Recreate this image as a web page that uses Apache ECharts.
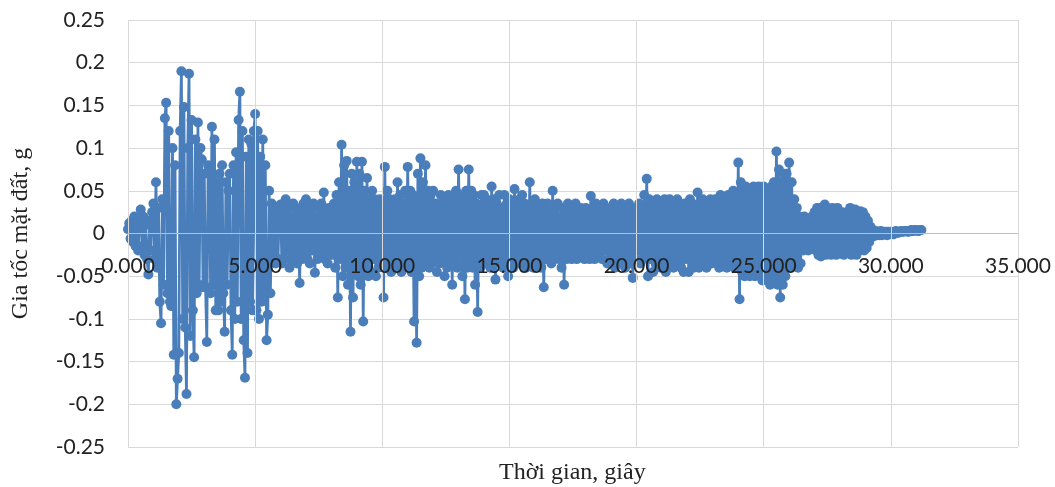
<!DOCTYPE html>
<html>
<head>
<meta charset="utf-8">
<script src="https://cdn.jsdelivr.net/npm/echarts@6/dist/echarts.min.js"></script>
<style>
  html, body { margin: 0; padding: 0; background: #ffffff; }
  #chart { width: 1055px; height: 487px; }
</style>
</head>
<body>
<div id="chart"></div>
<script>
// Ground acceleration record (g), sampled every DT seconds, two lines per second
const DT = 0.05;
const accel = [
  0.005, 0.012, -0.006, 0.015, -0.01, 0.02, -0.015, 0.012, -0.02, 0.018,
  0.028, -0.015, 0.02, -0.025, 0.01, -0.03, -0.048, 0.015, -0.02, 0.025,
  0.035, -0.03, 0.06, -0.04, 0.03, -0.08, -0.105, 0.04, -0.06, 0.135,
  0.153, -0.07, 0.12, -0.08, -0.085, 0.1, -0.142, 0.08, -0.2, -0.17,
  -0.14, 0.12, 0.19, -0.1, 0.148, -0.11, -0.188, 0.1, 0.187, -0.12,
  0.133, -0.09, -0.145, 0.11, -0.07, 0.13, -0.06, 0.1, 0.087, -0.063,
  0.07, -0.063, -0.127, 0.08, 0.075, -0.07, 0.125, -0.06, 0.11, -0.09,
  0.06, -0.09, 0.07, -0.08, 0.08, -0.07, -0.115, 0.06, -0.06, 0.05,
  0.07, -0.09, -0.142, 0.08, -0.1, 0.095, -0.08, 0.133, 0.166, -0.1,
  0.12, -0.125, -0.169, 0.09, -0.14, 0.11, -0.08, 0.105, -0.09, 0.12,
  0.14, -0.09, 0.12, -0.1, 0.09, -0.08, 0.11, -0.07, 0.08, -0.125,
  -0.095, 0.05, -0.07, 0.035, -0.03, 0.03, -0.035, 0.025, -0.03, 0.03,
  0.034, -0.035, 0.025, -0.03, 0.04, -0.02, 0.03, -0.04, 0.02, -0.03,
  0.035, -0.025, 0.03, -0.035, 0.02, -0.058, 0.025, -0.03, 0.035, -0.02,
  0.04, -0.03, 0.025, -0.035, 0.03, -0.02, 0.035, -0.046, 0.02, -0.03,
  0.03, -0.025, 0.035, -0.02, 0.048, -0.03, 0.025, -0.035, 0.03, -0.025,
  0.03, -0.025, 0.035, -0.04, 0.045, -0.075, 0.06, -0.03, 0.104, -0.05,
  0.08, -0.04, 0.085, -0.06, 0.05, -0.115, 0.07, -0.075, 0.06, -0.04,
  0.084, -0.05, 0.07, -0.06, 0.084, -0.103, 0.05, -0.04, 0.065, -0.05,
  0.04, -0.045, 0.05, -0.03, 0.04, -0.05, 0.035, -0.04, 0.04, -0.03,
  0.03, -0.075, 0.078, -0.04, 0.05, -0.035, 0.04, -0.045, 0.035, -0.03,
  0.04, -0.04, 0.06, -0.035, 0.045, -0.045, 0.035, -0.04, 0.05, -0.03,
  0.078, -0.04, 0.05, -0.045, 0.045, -0.103, 0.04, -0.128, 0.07, -0.05,
  0.088, -0.04, 0.06, -0.035, 0.08, -0.03, 0.05, -0.04, 0.045, -0.035,
  0.05, -0.03, 0.035, -0.045, 0.03, -0.035, 0.045, -0.03, 0.04, -0.05,
  0.035, -0.04, 0.045, -0.03, 0.04, -0.06, 0.045, -0.035, 0.05, -0.04,
  0.075, -0.03, 0.04, -0.05, 0.045, -0.077, 0.05, -0.04, 0.075, -0.035,
  0.05, -0.04, 0.045, -0.06, 0.035, -0.092, 0.03, -0.04, 0.045, -0.03,
  0.045, -0.035, 0.04, -0.03, 0.035, -0.04, 0.055, -0.03, 0.04, -0.054,
  0.035, -0.03, 0.045, -0.035, 0.03, -0.04, 0.045, -0.03, 0.035, -0.05,
  0.04, -0.03, 0.035, -0.04, 0.052, -0.03, 0.035, -0.035, 0.04, -0.025,
  0.045, -0.03, 0.035, -0.04, 0.03, -0.035, 0.06, -0.03, 0.035, -0.04,
  0.04, -0.03, 0.03, -0.035, 0.025, -0.04, 0.035, -0.063, 0.03, -0.03,
  0.035, -0.025, 0.03, -0.035, 0.05, -0.03, 0.03, -0.025, 0.035, -0.03,
  0.02, -0.04, 0.03, -0.06, 0.025, -0.03, 0.035, -0.025, 0.03, -0.03,
  0.025, -0.02, 0.035, -0.03, 0.02, -0.025, 0.03, -0.02, 0.025, -0.03,
  0.03, -0.02, 0.025, -0.03, 0.044, -0.025, 0.03, -0.03, 0.035, -0.02,
  0.03, -0.025, 0.025, -0.03, 0.035, -0.02, 0.03, -0.035, 0.025, -0.03,
  0.03, -0.025, 0.035, -0.04, 0.03, -0.03, 0.025, -0.035, 0.035, -0.03,
  0.03, -0.04, 0.025, -0.03, 0.035, -0.035, 0.03, -0.052, 0.025, -0.03,
  0.03, -0.02, 0.035, -0.035, 0.03, -0.03, 0.045, -0.025, 0.064, -0.05,
  0.04, -0.03, 0.035, -0.045, 0.03, -0.035, 0.04, -0.03, 0.035, -0.04,
  0.035, -0.035, 0.04, -0.045, 0.03, -0.035, 0.04, -0.03, 0.035, -0.04,
  0.03, -0.035, 0.04, -0.03, 0.035, -0.04, 0.03, -0.045, 0.035, -0.03,
  0.035, -0.045, 0.04, -0.03, 0.035, -0.04, 0.03, -0.035, 0.048, -0.04,
  0.035, -0.03, 0.04, -0.035, 0.03, -0.04, 0.035, -0.03, 0.04, -0.035,
  0.035, -0.03, 0.04, -0.035, 0.03, -0.04, 0.045, -0.03, 0.04, -0.035,
  0.035, -0.04, 0.045, -0.035, 0.04, -0.03, 0.05, -0.04, 0.045, -0.035,
  0.083, -0.077, 0.06, -0.045, 0.05, -0.05, 0.055, -0.045, 0.05, -0.05,
  0.045, -0.04, 0.055, -0.05, 0.05, -0.045, 0.055, -0.05, 0.045, -0.055,
  0.055, -0.05, 0.045, -0.055, 0.05, -0.06, 0.055, -0.05, 0.06, -0.055,
  0.096, -0.06, 0.075, -0.075, 0.06, -0.06, 0.07, -0.05, 0.07, -0.04,
  0.083, -0.04, 0.06, -0.03, 0.04, -0.035, 0.03, -0.04, 0.02, -0.035,
  0.015, -0.02, 0.02, -0.015, 0.018, -0.02, 0.015, -0.015, 0.02, -0.018,
  0.025, -0.02, 0.03, -0.025, 0.03, -0.027, 0.025, -0.02, 0.034, -0.025,
  0.03, -0.02, 0.028, -0.025, 0.03, -0.02, 0.025, -0.025, 0.03, -0.02,
  0.025, -0.02, 0.025, -0.025, 0.02, -0.02, 0.025, -0.015, 0.03, -0.025,
  0.025, -0.02, 0.028, -0.025, 0.02, -0.02, 0.026, -0.018, 0.025, -0.02,
  0.02, -0.017, 0.015, -0.01, 0.008, -0.004, 0.004, -0.003, 0.003, -0.002,
  0.002, -0.002, 0.003, -0.002, 0.002, -0.001, 0.002, -0.002, 0.002, -0.001,
  0.002, 0.001, -0.001, 0.002, 0.003, 0.001, 0.001, 0.002, 0.003, 0.002,
  0.002, 0.003, 0.003, 0.002, 0.002, 0.003, 0.004, 0.003, 0.003, 0.004,
  0.004, 0.003, 0.003, 0.004, 0.004
];

// Axis tick labels
const xTickValues = [0, 5, 10, 15, 20, 25, 30, 35];
const xTickLabels = ['0.000', '5.000', '10.000', '15.000', '20.000', '25.000', '30.000', '35.000'];
const yTickValues = [0.25, 0.2, 0.15, 0.1, 0.05, 0, -0.05, -0.1, -0.15, -0.2, -0.25];
const yTickLabels = ['0.25', '0.2', '0.15', '0.1', '0.05', '0', '-0.05', '-0.1', '-0.15', '-0.2', '-0.25'];

const xTitle = 'Thời gian, giây';
const yTitle = 'Gia tốc mặt đất, g';

const points = accel.map((v, i) => [Math.round(i * DT * 1000) / 1000, v]);

function lookupLabel(values, labels, v) {
  for (let i = 0; i < values.length; i++) {
    if (Math.abs(values[i] - v) < 1e-9) return labels[i];
  }
  return '';
}

const W = 1055, H = 487;
const plot = { left: 128, right: 37, top: 20, bottom: 40 };
const plotH = H - plot.top - plot.bottom;
const gridColor = '#d9d9d9';
const titleFont = 'Liberation Serif';

const chart = echarts.init(document.getElementById('chart'), null, { renderer: 'canvas' });
chart.setOption({
  animation: false,
  backgroundColor: '#ffffff',
  grid: {
    left: plot.left, right: plot.right, top: plot.top, bottom: plot.bottom,
    containLabel: false, outerBoundsMode: 'none'
  },
  xAxis: {
    type: 'value',
    min: 0,
    max: 35,
    interval: 5,
    position: 'bottom',
    // labels sit on the zero line, which is the middle of the symmetric y range
    offset: -plotH / 2,
    z: 10,
    axisLine: { show: true, onZero: false, lineStyle: { color: '#bfbfbf', width: 1 } },
    axisTick: { show: false },
    axisLabel: {
      margin: 22,
      fontFamily: 'Lato',
      fontSize: 21,
      color: '#222222',
      formatter: v => lookupLabel(xTickValues, xTickLabels, v)
    },
    splitLine: { show: true, lineStyle: { color: gridColor, width: 1 } }
  },
  yAxis: {
    type: 'value',
    min: -0.25,
    max: 0.25,
    interval: 0.05,
    name: yTitle,
    nameLocation: 'middle',
    nameGap: 95,
    nameRotate: 90,
    nameTextStyle: { fontFamily: titleFont, fontSize: 24, color: '#222222' },
    axisLine: { show: false },
    axisTick: { show: false },
    axisLabel: {
      margin: 23,
      fontFamily: 'Lato',
      fontSize: 21,
      color: '#222222',
      formatter: v => lookupLabel(yTickValues, yTickLabels, v)
    },
    splitLine: { show: true, lineStyle: { color: gridColor, width: 1 } }
  },
  graphic: [{
    type: 'text',
    left: (plot.left + (W - plot.right)) / 2 - 74,
    top: 461,
    silent: true,
    style: {
      text: xTitle,
      font: '24px "' + titleFont + '"',
      fill: '#222222'
    }
  }],
  series: [{
    type: 'line',
    data: points,
    symbol: 'circle',
    symbolSize: 10,
    showAllSymbol: true,
    sampling: null,
    lineStyle: { color: '#4a7ebb', width: 2.75 },
    itemStyle: { color: '#4a7ebb', borderWidth: 0 },
    emphasis: { disabled: true }
  }]
});
</script>
</body>
</html>
